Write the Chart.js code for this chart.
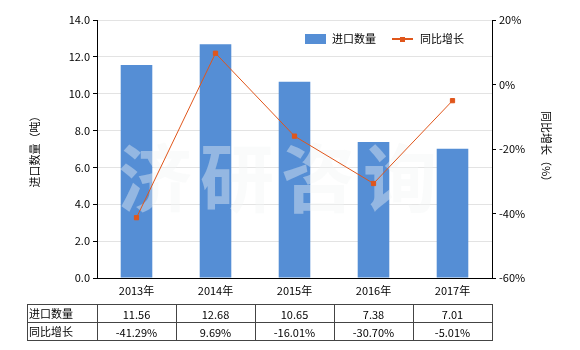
<!DOCTYPE html>
<html lang="zh">
  <head>
    <meta charset="UTF-8" />
    <script src="https://cdn.jsdelivr.net/npm/chart.js"></script>
    <title>进口数量</title>
    <style>
      body { margin: 0; background: #fff; }
    </style>
  </head>
  <body>
    <canvas id="myChart" width="580" height="350"></canvas>
  </body>
</html>

<script>
  const anos = ["2013年", "2014年", "2015年", "2016年", "2017年"];
  const quantidade = [11.56, 12.68, 10.65, 7.38, 7.01];
  const crescimento = [-41.29, 9.69, -16.01, -30.7, -5.01];
  const rotulosTabela = ["进口数量", "同比增长"];

  const fonte = "'Noto Sans CJK SC', 'DejaVu Sans', sans-serif";
  const corBarra = "#558ED5";
  const corLinha = "#E0561B";

  // watermark after bars, before the line
  const marcaDagua = {
    id: "marcaDagua",
    afterDatasetDraw(chart, args) {
      if (args.index !== 0) return;
      const ctx = chart.ctx;
      ctx.save();
      ctx.font = "bold 74px " + fonte;
      ctx.fillStyle = "rgba(242,245,245,0.4)";
      ctx.textAlign = "center";
      ctx.textBaseline = "middle";
      const chars = ["济", "研", "咨", "询"];
      const xs = [155, 237, 318, 400];
      chars.forEach((c, i) => ctx.fillText(c, xs[i], 178));
      ctx.restore();
    },
  };

  const extras = {
    id: "extras",
    afterDraw(chart) {
      const ctx = chart.ctx;
      const area = chart.chartArea;
      const x = chart.scales.x;
      ctx.save();

      // legend
      ctx.font = "11px " + fonte;
      ctx.textBaseline = "middle";
      ctx.fillStyle = corBarra;
      ctx.fillRect(305, 34, 21, 10);
      ctx.fillStyle = "#000";
      ctx.fillText("进口数量", 332, 39);
      ctx.strokeStyle = corLinha;
      ctx.lineWidth = 2;
      ctx.beginPath();
      ctx.moveTo(392, 39);
      ctx.lineTo(413, 39);
      ctx.stroke();
      ctx.fillStyle = corLinha;
      ctx.fillRect(400, 37, 5, 5);
      ctx.fillStyle = "#000";
      ctx.fillText("同比增长", 420, 39);

      // axis titles
      ctx.save();
      ctx.translate(35, 149);
      ctx.rotate(-Math.PI / 2);
      ctx.textAlign = "center";
      ctx.fillText("进口数量（吨）", 0, 0);
      ctx.restore();
      ctx.save();
      ctx.translate(546, 149);
      ctx.rotate(Math.PI / 2);
      ctx.textAlign = "center";
      ctx.fillText("同比增长（%）", 0, 0);
      ctx.restore();

      // table
      const topo = 304, meio = 322, base = 340, esq = 27;
      const larg = (area.right - area.left) / anos.length;
      ctx.strokeStyle = "#444";
      ctx.lineWidth = 1;
      ctx.beginPath();
      [topo, meio, base].forEach((y) => {
        ctx.moveTo(esq, y + 0.5);
        ctx.lineTo(area.right, y + 0.5);
      });
      ctx.moveTo(esq + 0.5, topo);
      ctx.lineTo(esq + 0.5, base + 1);
      for (let i = 0; i <= anos.length; i++) {
        const xx = Math.round(area.left + i * larg) + 0.5;
        ctx.moveTo(xx, topo);
        ctx.lineTo(xx, base + 1);
      }
      ctx.stroke();

      ctx.fillStyle = "#000";
      ctx.textAlign = "left";
      ctx.fillText(rotulosTabela[0], esq + 2, (topo + meio) / 2 + 1);
      ctx.fillText(rotulosTabela[1], esq + 2, (meio + base) / 2 + 1);
      ctx.textAlign = "center";
      for (let i = 0; i < anos.length; i++) {
        const cx = x.getPixelForValue(i);
        ctx.fillText(quantidade[i].toFixed(2), cx, (topo + meio) / 2 + 2);
        ctx.fillText(crescimento[i].toFixed(2) + "%", cx, (meio + base) / 2 + 2);
      }
      ctx.restore();
    },
  };

  Chart.defaults.font.family = fonte;
  Chart.defaults.font.size = 11;
  Chart.defaults.color = "#000";

  const config = {
    data: {
      labels: anos,
      datasets: [
        {
          type: "bar",
          label: "进口数量",
          data: quantidade,
          backgroundColor: corBarra,
          yAxisID: "y",
          barPercentage: 0.4,
          categoryPercentage: 1,
          order: 2,
        },
        {
          type: "line",
          label: "同比增长",
          data: crescimento,
          borderColor: corLinha,
          backgroundColor: corLinha,
          borderWidth: 1,
          pointStyle: "rect",
          pointRadius: 3,
          yAxisID: "y1",
          order: 1,
        },
      ],
    },
    options: {
      responsive: false,
      animation: false,
      layout: { padding: { top: 20, bottom: 50, left: 0, right: 0 } },
      plugins: { legend: { display: false }, tooltip: { enabled: false } },
      scales: {
        x: {
          grid: { display: false, drawTicks: false },
          border: { color: "#000", width: 1 },
          ticks: { padding: 6 },
          afterFit(s) { s.height = 22; },
        },
        y: {
          position: "left",
          min: 0,
          max: 14,
          ticks: { stepSize: 2, callback: (v) => v.toFixed(1), padding: 3 },
          grid: { color: "#e3e3e3", tickColor: "#000", tickLength: 4 },
          border: { color: "#000", width: 1 },
          afterFit(s) { s.width = 97; },
        },
        y1: {
          position: "right",
          min: -60,
          max: 20,
          ticks: { stepSize: 20, callback: (v) => v + "%", padding: 3 },
          grid: { drawOnChartArea: false, tickColor: "#000", tickLength: 4 },
          border: { color: "#000", width: 1 },
          afterFit(s) { s.width = 88; },
        },
      },
    },
    plugins: [marcaDagua, extras],
  };

  const myChart = new Chart(document.getElementById("myChart"), config);
</script>
